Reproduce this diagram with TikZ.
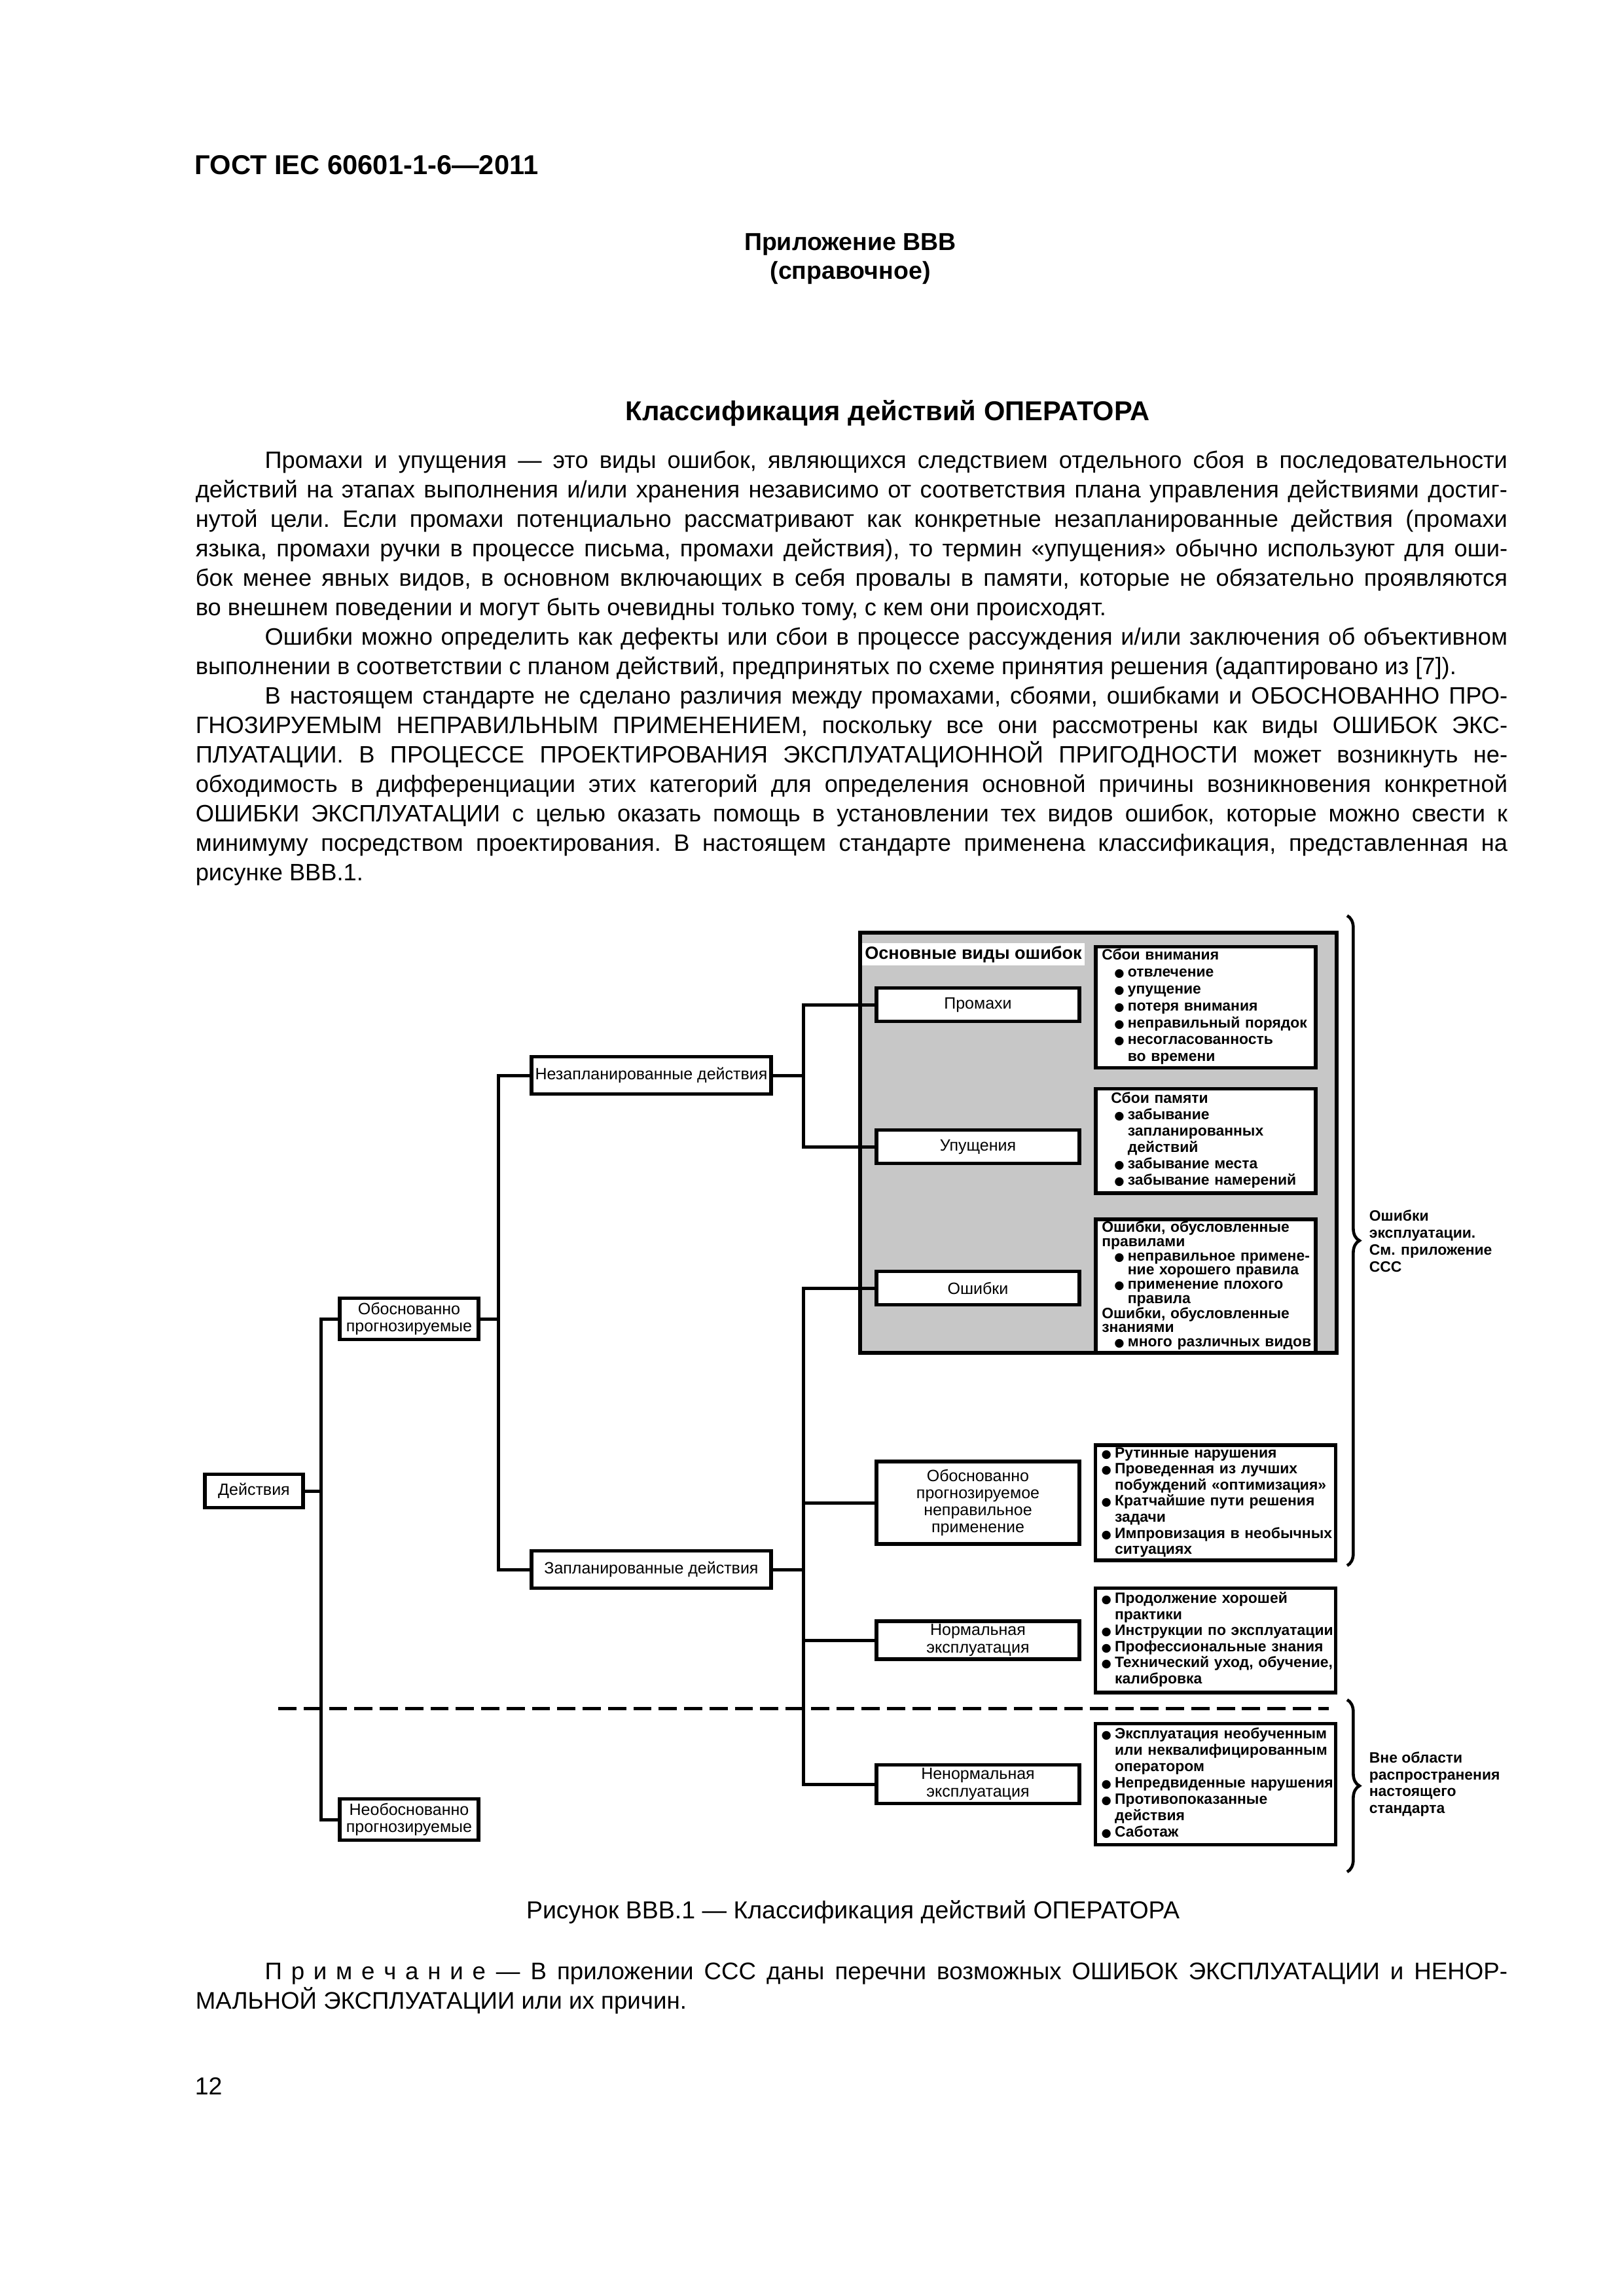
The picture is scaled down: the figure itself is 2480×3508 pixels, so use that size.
\documentclass[tikz,border=0pt]{standalone}
\usepackage{fontspec}
\setmainfont{Liberation Sans}
\newfontfamily\symfont{DejaVu Sans}
\usetikzlibrary{decorations.pathreplacing}

\newcommand{\jline}[1]{\noindent\makebox[481pt][s]{#1}\par}
\newcommand{\lastline}[1]{\noindent\mbox{#1}\par}
\newcommand{\wsp}{\frenchspacing\spaceskip=0.278em plus 0.9em minus 0.06em\relax}
\newcommand{\lsp}{\kern3.3pt\relax}
\newcommand{\lbul}{\makebox[4.9pt][l]{\symfont\fontsize{4.2}{5}\selectfont ●}}
\newcommand{\lbuli}{\hspace*{4.6pt}\lbul}
\newcommand{\lcont}{\hspace*{4.9pt}}
\newcommand{\lconti}{\hspace*{9.5pt}}

\begin{document}
\begin{tikzpicture}[x=0.24pt,y=-0.24pt,
  txt/.style={inner sep=0pt},
  bodytxt/.style={inner sep=0pt,text width=481pt,font=\fontsize{8.7}{10.8}\selectfont},
  box/.style={draw,line width=1.3pt,fill=white,align=center,inner sep=0pt,font=\fontsize{6}{6.3}\selectfont},
  lstbox/.style={draw,line width=1.4pt,fill=white,align=left,inner xsep=2.2pt,inner ysep=0.5pt,font=\bfseries\fontsize{5.5}{6}\selectfont},
  conn/.style={line width=1.2pt},
  dline/.style={line width=1.2pt,dash pattern=on 6.7pt off 2.6pt},
  brc/.style={decorate,decoration={brace,amplitude=4.5pt},line width=1.1pt},
  rlbl/.style={inner sep=0pt,align=left,anchor=west,font=\bfseries\fontsize{5.5}{6.2}\selectfont}]

\useasboundingbox (0,0) rectangle (2480,3508);

\node[txt,anchor=base west,font=\bfseries\fontsize{10}{12}\selectfont] (gost) at (297,267) {ГОСТ IEC 60601-1-6—2011};
\node[txt,anchor=base,font=\bfseries\fontsize{9}{11}\selectfont] (pril) at (1299,383) {Приложение ВВВ};
\node[txt,anchor=base,font=\bfseries\fontsize{9}{11}\selectfont] (sprav) at (1299,427) {(справочное)};
\node[txt,anchor=base,font=\bfseries\fontsize{10}{12}\selectfont] (title) at (1356,643) {Классификация действий ОПЕРАТОРА};

\node[bodytxt,anchor=base west] (body) at (298,716) {\wsp
\jline{\hspace{25.4pt}Промахи и упущения — это виды ошибок, являющихся следствием отдельного сбоя в последовательности}
\jline{действий на этапах выполнения и/или хранения независимо от соответствия плана управления действиями достиг-}
\jline{нутой цели. Если промахи потенциально рассматривают как конкретные незапланированные действия (промахи}
\jline{языка, промахи ручки в процессе письма, промахи действия), то термин «упущения» обычно используют для оши-}
\jline{бок менее явных видов, в основном включающих в себя провалы в памяти, которые не обязательно проявляются}
\lastline{во внешнем поведении и могут быть очевидны только тому, с кем они происходят.}
\jline{\hspace{25.4pt}Ошибки можно определить как дефекты или сбои в процессе рассуждения и/или заключения об объективном}
\lastline{выполнении в соответствии с планом действий, предпринятых по схеме принятия решения (адаптировано из [7]).}
\jline{\hspace{25.4pt}В настоящем стандарте не сделано различия между промахами, сбоями, ошибками и ОБОСНОВАННО ПРО-}
\jline{ГНОЗИРУЕМЫМ НЕПРАВИЛЬНЫМ ПРИМЕНЕНИЕМ, поскольку все они рассмотрены как виды ОШИБОК ЭКС-}
\jline{ПЛУАТАЦИИ. В ПРОЦЕССЕ ПРОЕКТИРОВАНИЯ ЭКСПЛУАТАЦИОННОЙ ПРИГОДНОСТИ может возникнуть не-}
\jline{обходимость в дифференциации этих категорий для определения основной причины возникновения конкретной}
\jline{ОШИБКИ ЭКСПЛУАТАЦИИ с целью оказать помощь в установлении тех видов ошибок, которые можно свести к}
\jline{минимуму посредством проектирования. В настоящем стандарте применена классификация, представленная на}
\lastline{рисунке ВВВ.1.}};

% group of the main error kinds
\node[draw,line width=1.4pt,fill=black!22,minimum width=174.7pt,minimum height=154.1pt] (errgrp) at (1678,1746) {};
\node[fill=white,inner sep=0pt,minimum width=81.4pt,minimum height=8.2pt,font=\bfseries\fontsize{6.5}{7}\selectfont] (grplbl) at (1487,1458) {Основные виды ошибок};

\node[box,minimum width=36pt,minimum height=12.2pt] (deyst) at (388,2278) {Действия};
\node[box,minimum width=50.9pt,minimum height=15pt] (obosn) at (625,2015) {Обоснованно\\прогнозируемые};
\node[box,minimum width=50.9pt,minimum height=15pt] (neobosn) at (625,2780) {Необоснованно\\прогнозируемые};
\node[box,minimum width=87.8pt,minimum height=13.8pt] (nezapl) at (995,1643) {Незапланированные действия};
\node[box,minimum width=87.8pt,minimum height=13.8pt] (zapl) at (995,2398) {Запланированные действия};
\node[box,minimum width=74.4pt,minimum height=12.2pt] (promahi) at (1494,1535) {Промахи};
\node[box,minimum width=74.4pt,minimum height=12.2pt] (upusch) at (1494,1752) {Упущения};
\node[box,minimum width=74.4pt,minimum height=12.2pt] (oshibki) at (1494,1968) {Ошибки};
\node[box,minimum width=74.4pt,minimum height=30.2pt] (opnp) at (1494,2296) {Обоснованно\\прогнозируемое\\неправильное\\применение};
\node[box,minimum width=74.4pt,minimum height=13.9pt] (norm) at (1494,2506) {Нормальная\\эксплуатация};
\node[box,minimum width=74.4pt,minimum height=14.2pt] (nenorm) at (1494,2726) {Ненормальная\\эксплуатация};

\node[lstbox,minimum width=80.6pt,minimum height=44.2pt,text width=76.2pt,font=\bfseries\fontsize{5.5}{6.2}\selectfont] (vnim) at (1842,1539) {\begin{tabular}{@{}l@{}}
Сбои внимания\\
\lbuli отвлечение\\
\lbuli упущение\\
\lbuli потеря внимания\\
\lbuli неправильный порядок\\
\lbuli несогласованность\\
\lconti во времени
\end{tabular}};
\node[lstbox,minimum width=80.6pt,minimum height=38.2pt,text width=76.2pt] (pamyat) at (1842,1743) {\begin{tabular}{@{}l@{}}
\hspace*{3.4pt}Сбои памяти\\
\lbuli забывание\\
\lconti запланированных\\
\lconti действий\\
\lbuli забывание места\\
\lbuli забывание намерений
\end{tabular}};
\node[lstbox,minimum width=80.6pt,minimum height=49pt,text width=76.2pt,font=\bfseries\fontsize{5.5}{5.2}\selectfont] (pravila) at (1842,1965) {\begin{tabular}{@{}l@{}}
Ошибки, обусловленные\\
правилами\\
\lbuli неправильное примене-\\
\lconti ние хорошего правила\\
\lbuli применение плохого\\
\lconti правила\\
Ошибки, обусловленные\\
знаниями\\
\lbuli много различных видов
\end{tabular}};
\node[lstbox,minimum width=88.1pt,minimum height=41.8pt,text width=83.7pt,font=\bfseries\fontsize{5.5}{5.9}\selectfont] (narush) at (1857,2296) {\begin{tabular}{@{}l@{}}
\lbul Рутинные нарушения\\
\lbul Проведенная из лучших\\
\lcont побуждений «оптимизация»\\
\lbul Кратчайшие пути решения\\
\lcont задачи\\
\lbul Импровизация в необычных\\
\lcont ситуациях
\end{tabular}};
\node[lstbox,minimum width=88.1pt,minimum height=38.2pt,text width=83.7pt,font=\bfseries\fontsize{5.5}{5.9}\selectfont] (praktika) at (1857,2506) {\begin{tabular}{@{}l@{}}
\lbul Продолжение хорошей\\
\lcont практики\\
\lbul Инструкции по эксплуатации\\
\lbul Профессиональные знания\\
\lbul Технический уход, обучение,\\
\lcont калибровка
\end{tabular}};
\node[lstbox,minimum width=88.1pt,minimum height=44.4pt,text width=83.7pt] (sabotazh) at (1857,2726) {\begin{tabular}{@{}l@{}}
\lbul Эксплуатация необученным\\
\lcont или неквалифицированным\\
\lcont оператором\\
\lbul Непредвиденные нарушения\\
\lbul Противопоказанные\\
\lcont действия\\
\lbul Саботаж
\end{tabular}};

\draw[conn] (deyst.east) -- ++(25,0) coordinate (jd);
\foreach \n in {obosn,neobosn} \draw[conn] (\n.west) -| (jd);
\draw[conn] (obosn.east) -- ++(28,0) coordinate (jo);
\foreach \n in {nezapl,zapl} \draw[conn] (\n.west) -| (jo);
\draw[conn] (nezapl.east) -- ++(47,0) coordinate (jn);
\foreach \n in {promahi,upusch} \draw[conn] (\n.west) -| (jn);
\draw[conn] (zapl.east) -- ++(47,0) coordinate (jz);
\foreach \n in {oshibki,opnp,norm,nenorm} \draw[conn] (\n.west) -| (jz);

\coordinate (dashL) at (425,2610);
\coordinate (dashR) at (2030,2610);
\draw[dline] (dashL) -- (dashR);

\coordinate (br1t) at (2058,1399);
\coordinate (br1b) at (2058,2392);
\coordinate (br2t) at (2058,2597);
\coordinate (br2b) at (2058,2860);
\draw[brc] (br1t) -- (br1b);
\draw[brc] (br2t) -- (br2b);
\node[rlbl] (lbl1) at (2091,1896) {Ошибки\\эксплуатации.\\См. приложение\\ССС};
\node[rlbl] (lbl2) at (2091,2726) {Вне области\\распространения\\настоящего\\стандарта};

\node[txt,anchor=base,font=\fontsize{9}{10.8}\selectfont] (capt) at (1303,2931) {Рисунок ВВВ.1 — Классификация действий ОПЕРАТОРА};
\node[bodytxt,anchor=base west,font=\fontsize{8.8}{10.8}\selectfont] (note) at (298,3024) {\wsp
\jline{\hspace{25.4pt}П\lsp р\lsp и\lsp м\lsp е\lsp ч\lsp а\lsp н\lsp и\lsp е — В приложении ССС даны перечни возможных ОШИБОК ЭКСПЛУАТАЦИИ и НЕНОР-}
\lastline{МАЛЬНОЙ ЭКСПЛУАТАЦИИ или их причин.}};
\node[txt,anchor=base west,font=\fontsize{9}{10.8}\selectfont] (pgnum) at (297,3200) {12};
\end{tikzpicture}
\end{document}
